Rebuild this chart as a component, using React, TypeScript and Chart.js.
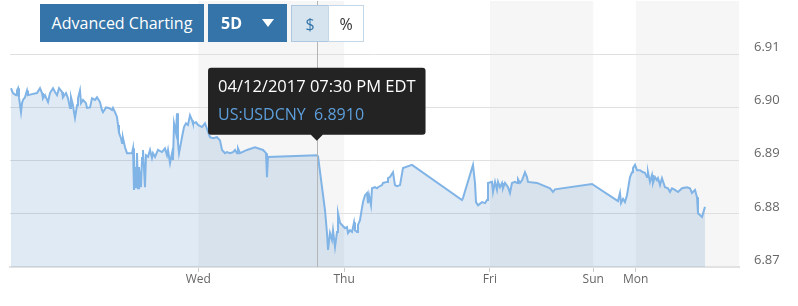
import React, { useEffect, useRef } from "react";
import { Chart, registerables } from "chart.js";

Chart.register(...registerables);

// trading hours since Mon 04/10/2017 05:00 PM (weekend gap removed)
const hours = [
  0.16, 0.49, 0.99, 1.15, 1.32, 1.48, 1.81, 1.98, 2.14, 2.47, 2.8, 2.96, 3.62, 4.44, 4.94, 5.27, 5.43, 5.76, 6.26, 6.58,
  7.08, 7.41, 7.74, 8.07, 8.56, 8.72, 9.22, 9.55, 9.88, 10.04, 10.37, 10.53, 10.7, 11.03, 11.19, 11.52, 11.69, 12.02, 12.51, 12.67,
  13.17, 13.5, 13.99, 14.32, 14.81, 15.14, 15.31, 15.8, 16.3, 16.79, 16.95, 17.28, 17.61, 17.78, 17.94, 18.27, 18.44, 18.6, 18.93, 19.26,
  19.75, 20.08, 20.25, 20.41, 20.58, 20.74, 20.91, 21.07, 21.23, 21.56, 21.73, 21.89, 22.22, 22.39, 22.72, 23.05, 23.37, 23.54, 23.87, 24.36,
  25.02, 25.51, 25.84, 26.01, 26.34, 26.67, 26.83, 27.0, 27.33, 27.49, 27.65, 27.82, 28.31, 28.64, 28.97, 29.3, 29.63, 29.96, 30.12, 30.62,
  30.95, 31.6, 32.1, 32.92, 33.42, 34.07, 34.57, 34.9, 35.39, 35.72, 36.21, 36.71, 37.04, 37.37, 37.53, 37.86, 39.01, 40.33, 41.65, 42.14,
  42.3, 42.47, 50.5, 50.7, 51.36, 51.85, 52.18, 52.35, 52.67, 53.0, 53.17, 53.5, 53.83, 53.99, 54.32, 54.65, 55.14, 55.47, 55.64, 55.97,
  56.3, 56.63, 56.79, 57.12, 57.28, 57.61, 57.94, 58.11, 58.44, 58.77, 58.93, 59.09, 59.42, 59.59, 59.75, 60.08, 60.41, 60.58, 61.23, 61.4,
  62.06, 62.22, 62.55, 62.88, 63.05, 63.37, 63.7, 64.2, 64.69, 66.17, 74.4, 74.57, 76.21, 76.54, 76.71, 77.04, 77.7, 78.19, 78.52, 78.68,
  79.34, 79.51, 79.84, 80.16, 80.33, 80.66, 80.99, 81.15, 81.48, 81.98, 82.3, 82.63, 83.13, 83.46, 83.62, 83.95, 84.28, 84.44, 84.77, 85.1,
  85.27, 86.75, 88.89, 89.38, 89.71, 95.8, 100.08, 100.41, 100.58, 100.91, 101.23, 101.56, 102.06, 102.39, 102.55, 102.88, 103.21, 103.7, 104.2, 104.53,
  104.86, 105.02, 105.35, 105.68, 105.84, 106.17, 106.5, 106.67, 107.0, 107.32, 107.82, 108.31, 108.64, 108.97, 109.47, 109.96, 110.62, 111.44, 111.93, 112.26,
  112.76, 113.09, 113.25, 113.91, 114.07, 114.4,
];

const prices = [
  6.9036, 6.9027, 6.9023, 6.9032, 6.9036, 6.9019, 6.8991, 6.9008, 6.9014, 6.9019, 6.9032, 6.9023, 6.9025, 6.9027, 6.9036, 6.9027, 6.9017, 6.9023, 6.901, 6.9027,
  6.9036, 6.9029, 6.9023, 6.9036, 6.9029, 6.9019, 6.9027, 6.9017, 6.8999, 6.9019, 6.9004, 6.8991, 6.898, 6.9004, 6.9017, 6.9032, 6.9008, 6.9014, 6.9008, 6.8999,
  6.9, 6.9017, 6.9014, 6.9019, 6.901, 6.8995, 6.8991, 6.9, 6.8999, 6.8995, 6.8999, 6.8991, 6.8982, 6.8967, 6.8952, 6.8942, 6.8933, 6.8942, 6.8925, 6.8914,
  6.8914, 6.8914, 6.8923, 6.8845, 6.8888, 6.8848, 6.8914, 6.8848, 6.8888, 6.885, 6.8905, 6.892, 6.885, 6.891, 6.8907, 6.892, 6.8905, 6.8914, 6.8907, 6.892,
  6.8916, 6.8923, 6.891, 6.892, 6.8895, 6.8914, 6.8901, 6.897, 6.8952, 6.8989, 6.8933, 6.8914, 6.8944, 6.8963, 6.897, 6.8967, 6.8985, 6.8976, 6.897, 6.8972,
  6.8967, 6.8963, 6.897, 6.8944, 6.8942, 6.8944, 6.8938, 6.892, 6.8914, 6.8916, 6.8914, 6.8916, 6.892, 6.8914, 6.8923, 6.8914, 6.892, 6.8925, 6.892, 6.8914,
  6.8869, 6.8907, 6.891, 6.8908, 6.885, 6.8807, 6.8764, 6.8732, 6.8764, 6.8751, 6.8769, 6.8738, 6.8766, 6.8801, 6.8783, 6.8779, 6.8773, 6.8775, 6.8764, 6.8769,
  6.8766, 6.8784, 6.8769, 6.8766, 6.8779, 6.8788, 6.8811, 6.8822, 6.8835, 6.8839, 6.882, 6.8835, 6.8816, 6.8848, 6.8848, 6.885, 6.8848, 6.885, 6.8854, 6.8858,
  6.886, 6.8867, 6.8869, 6.8875, 6.8878, 6.8854, 6.8852, 6.8854, 6.8886, 6.8892, 6.8826, 6.883, 6.8892, 6.8858, 6.8822, 6.8816, 6.8822, 6.882, 6.8826, 6.8858,
  6.886, 6.8841, 6.886, 6.8845, 6.886, 6.885, 6.8858, 6.8848, 6.8858, 6.885, 6.8839, 6.8858, 6.886, 6.8858, 6.8865, 6.8858, 6.8863, 6.8863, 6.8878, 6.8869,
  6.886, 6.8858, 6.8848, 6.8841, 6.8846, 6.8856, 6.8824, 6.8839, 6.882, 6.8828, 6.8822, 6.8835, 6.8869, 6.8878, 6.8886, 6.8892, 6.8882, 6.8882, 6.8878, 6.8877,
  6.8869, 6.8878, 6.886, 6.8873, 6.8858, 6.8869, 6.8863, 6.8867, 6.8854, 6.8867, 6.885, 6.8848, 6.8841, 6.8848, 6.8845, 6.8841, 6.8848, 6.885, 6.8848, 6.8839,
  6.8845, 6.8831, 6.8801, 6.8794, 6.8794, 6.8813,
];

const seriesName = "US:USDCNY";
const yTickValues = [6.87, 6.88, 6.89, 6.9, 6.91];
const dayTickHours = [31, 55, 79, 96, 103];
const dayTickLabels = ["Wed", "Thu", "Fri", "Sun", "Mon"];
const shadedStarts = [31, 79, 103];
const shadedEnds = [55, 96, 120];
const activeIndex = 122;

function pad2(n: number) {
  return n < 10 ? "0" + n : String(n);
}

function formatTradingHour(h: number) {
  const base = h < 96 ? Date.UTC(2017, 3, 10, 17, 0) : Date.UTC(2017, 3, 16, 17, 0);
  const off = h < 96 ? h : h - 96;
  const d = new Date(base + Math.round(off * 60) * 60000);
  let hr = d.getUTCHours();
  const ampm = hr >= 12 ? "PM" : "AM";
  hr = hr % 12;
  if (hr === 0) hr = 12;
  return `${pad2(d.getUTCMonth() + 1)}/${pad2(d.getUTCDate())}/${d.getUTCFullYear()} ${pad2(hr)}:${pad2(d.getUTCMinutes())} ${ampm} EDT`;
}

const bandsPlugin = {
  id: "bands",
  beforeDraw(chart: any) {
    const { ctx, chartArea, scales } = chart;
    ctx.save();
    ctx.fillStyle = "#f6f6f6";
    for (let i = 0; i < shadedStarts.length; i++) {
      const x0 = scales.x.getPixelForValue(shadedStarts[i]);
      const x1 = scales.x.getPixelForValue(shadedEnds[i]);
      ctx.fillRect(x0, chartArea.top, x1 - x0, chartArea.bottom - chartArea.top);
    }
    ctx.restore();
  },
};

const crosshairPlugin = {
  id: "crosshair",
  afterDatasetsDraw(chart: any) {
    const act = chart.tooltip && chart.tooltip.getActiveElements();
    if (!act || !act.length) return;
    const x = Math.round(act[0].element.x) + 0.5;
    const { ctx, chartArea } = chart;
    ctx.save();
    ctx.strokeStyle = "#b4b4b4";
    ctx.lineWidth = 1;
    ctx.beginPath();
    ctx.moveTo(x, chartArea.top);
    ctx.lineTo(x, chartArea.bottom);
    ctx.stroke();
    ctx.restore();
  },
};

export default function App() {
  const ref = useRef<HTMLCanvasElement | null>(null);

  useEffect(() => {
    if (!ref.current) return;
    Chart.defaults.font.family = "'Open Sans', sans-serif";
    const chart = new Chart(ref.current, {
      type: "line",
      data: {
        datasets: [
          {
            label: seriesName,
            data: hours.map((h, i) => ({ x: h, y: prices[i] })),
            borderColor: "#80b4e6",
            borderWidth: 2,
            backgroundColor: "rgba(100,150,200,0.2)",
            fill: "start",
            pointRadius: 0,
            pointHoverRadius: 0,
            tension: 0,
          },
        ],
      },
      options: {
        animation: false,
        responsive: false,
        events: [],
        layout: { padding: { left: 10, right: 0, top: 0, bottom: 0 } },
        plugins: {
          legend: { display: false },
          tooltip: {
            enabled: true,
            xAlign: "center",
            yAlign: "bottom",
            backgroundColor: "#232323",
            titleColor: "#ffffff",
            bodyColor: "#5d9fdc",
            titleFont: { family: "'Open Sans', sans-serif", size: 16.5, weight: "normal" },
            bodyFont: { family: "'Open Sans', sans-serif", size: 16, weight: "normal" },
            titleMarginBottom: 8,
            padding: 10,
            caretSize: 6,
            caretPadding: 14,
            cornerRadius: 3,
            displayColors: false,
            callbacks: {
              title: (items: any[]) => formatTradingHour(items[0].parsed.x),
              label: (item: any) => `${seriesName}  ${item.parsed.y.toFixed(4)}`,
            },
          },
        },
        scales: {
          x: {
            type: "linear",
            min: 0,
            max: 120,
            afterBuildTicks: (axis: any) => {
              axis.ticks = dayTickHours.map((v) => ({ value: v }));
            },
            afterFit: (axis: any) => {
              axis.height = 39;
              axis.paddingLeft = 0;
              axis.paddingRight = 0;
            },
            grid: { drawOnChartArea: false, drawTicks: true, tickLength: 5, color: "#cccccc" },
            border: { display: true, color: "#e2e2e2", width: 2 },
            ticks: {
              autoSkip: false,
              maxRotation: 0,
              padding: 0,
              color: "#666666",
              font: { size: 12 },
              callback: (_v: any, i: number) => dayTickLabels[i],
            },
          },
          y: {
            position: "right",
            min: 6.87,
            max: 6.92,
            afterBuildTicks: (axis: any) => {
              axis.ticks = yTickValues.map((v) => ({ value: v }));
            },
            afterFit: (axis: any) => {
              axis.width = 59;
              axis.paddingTop = 0;
              axis.paddingBottom = 0;
            },
            grid: { drawTicks: false, color: "#e0e0e0", lineWidth: 1 },
            border: { display: false },
            ticks: {
              padding: 15,
              labelOffset: -7,
              color: "#666666",
              font: { size: 13 },
              callback: (v: any) => Number(v).toFixed(2),
            },
          },
        },
      },
      plugins: [bandsPlugin, crosshairPlugin],
    } as any);

    const pt: any = chart.getDatasetMeta(0).data[activeIndex];
    chart.tooltip!.setActiveElements([{ datasetIndex: 0, index: activeIndex }], { x: pt.x, y: pt.y });
    chart.update();

    return () => chart.destroy();
  }, []);

  const btnBase: React.CSSProperties = {
    position: "absolute",
    display: "flex",
    alignItems: "center",
    justifyContent: "center",
    boxSizing: "border-box",
    fontFamily: "'Open Sans', sans-serif",
    fontSize: 16,
  };

  return (
    <div style={{ position: "fixed", left: 0, top: 0, width: 798, height: 306, background: "#fff" }}>
      <canvas ref={ref} width={798} height={306} style={{ display: "block", width: 798, height: 306 }} />
      <div style={{ ...btnBase, left: 40, top: 4, width: 164, height: 38, background: "#3474a8", color: "#fff" }}>
        Advanced Charting
      </div>
      <div style={{ ...btnBase, left: 208, top: 4, width: 79, height: 38, background: "#3474a8", color: "#fff", justifyContent: "flex-start" }}>
        <span style={{ marginLeft: 13, fontWeight: 700 }}>5D</span>
        <span
          style={{
            position: "absolute",
            left: 54,
            top: 15,
            width: 0,
            height: 0,
            borderLeft: "6px solid transparent",
            borderRight: "6px solid transparent",
            borderTop: "8px solid #fff",
          }}
        />
      </div>
      <div style={{ ...btnBase, left: 291, top: 5, width: 38, height: 37, background: "#d6e4f0", border: "1px solid #adc8e0", color: "#3474a8" }}>
        $
      </div>
      <div style={{ ...btnBase, left: 328, top: 5, width: 36, height: 37, background: "#fff", border: "1px solid #c4d7e8", color: "#333" }}>
        %
      </div>
    </div>
  );
}
